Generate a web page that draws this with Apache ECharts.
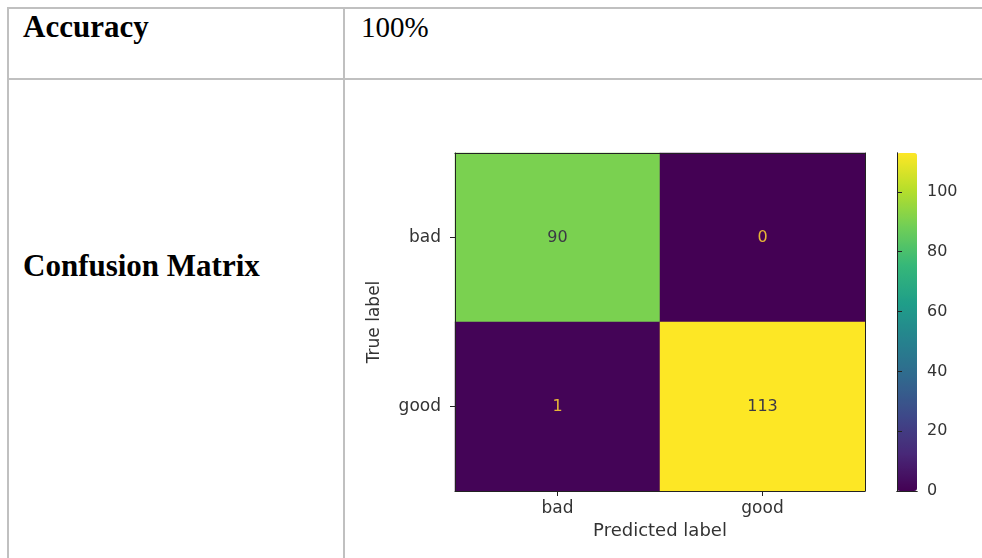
<!DOCTYPE html>
<html>
<head>
<meta charset="utf-8">
<script src="https://cdn.jsdelivr.net/npm/echarts@6/dist/echarts.min.js"></script>
<style>
  html, body { margin: 0; padding: 0; background: #ffffff; }
  #page { position: relative; width: 982px; height: 558px; overflow: hidden; background: #fff; }
  .ln { position: absolute; background: #c0c0c0; }
  .tx { position: absolute; font-family: "Liberation Serif", "Times New Roman", serif; color: #000; line-height: 1; white-space: nowrap; }
  #chart { position: absolute; left: 0; top: 0; width: 982px; height: 558px; }
</style>
</head>
<body>
<div id="page">
  <div class="ln" style="left:7px; top:7px; width:975px; height:2px;"></div>
  <div class="ln" style="left:7px; top:78px; width:975px; height:2px;"></div>
  <div class="ln" style="left:7px; top:7px; width:2px; height:551px;"></div>
  <div class="ln" style="left:343px; top:7px; width:2px; height:551px;"></div>
  <div class="tx" style="left:23px; top:11px; font-size:31px; font-weight:bold;">Accuracy</div>
  <div class="tx" style="left:361px; top:13px; font-size:29px;">100%</div>
  <div class="tx" style="left:23px; top:250px; font-size:31px; font-weight:bold;">Confusion Matrix</div>
  <div id="chart"></div>
</div>
<script>
// ---- data ----
var predictedLabels = ['bad', 'good'];
var trueLabels = ['bad', 'good'];
var rowBad = [90, 0];    // true = bad
var rowGood = [1, 113];  // true = good
var colorbarMax = 113;
var colorbarTicks = [0, 20, 40, 60, 80, 100];

var rows = [rowBad, rowGood];
var data = [];
for (var r = 0; r < rows.length; r++) {
  for (var c = 0; c < rows[r].length; c++) {
    var v = rows[r][c];
    data.push({
      value: [c, r, v],
      label: { color: v > colorbarMax / 2 ? '#3b3845' : '#e6b636' }
    });
  }
}

var viridis = ['#440154', '#482878', '#3e4989', '#31688e', '#26828e', '#1f9e89', '#35b779', '#6ece58', '#b5de2b', '#fde725'];
var spine = { show: true, lineStyle: { color: '#222', width: 1 } };
var font = 'DejaVu Sans';

var chart = echarts.init(document.getElementById('chart'), null, { renderer: 'canvas' });
chart.setOption({
  backgroundColor: 'transparent',
  animation: false,
  textStyle: { fontFamily: font },
  grid: [
    { left: 455, top: 153, width: 410, height: 338 },
    { left: 897, top: 153, width: 20, height: 338 }
  ],
  xAxis: [
    {
      type: 'category', gridIndex: 0, data: predictedLabels, position: 'bottom', z: 5,
      axisLine: spine,
      axisTick: { show: true, alignWithLabel: true, length: 5, lineStyle: { color: '#222' } },
      axisLabel: { fontSize: 17, color: '#333', margin: 9, fontFamily: font },
      splitLine: { show: false },
      name: 'Predicted label', nameLocation: 'middle', nameGap: 29,
      nameTextStyle: { fontSize: 18, color: '#333', fontFamily: font }
    },
    {
      type: 'category', gridIndex: 0, data: predictedLabels, position: 'top', z: 5,
      axisLine: spine, axisTick: { show: false }, axisLabel: { show: false }
    },
    {
      type: 'value', gridIndex: 1, min: 0, max: 1, position: 'bottom', z: 5,
      axisLine: spine, axisTick: { show: false }, axisLabel: { show: false }, splitLine: { show: false }
    },
    {
      type: 'value', gridIndex: 1, min: 0, max: 1, position: 'top', z: 5,
      axisLine: spine, axisTick: { show: false }, axisLabel: { show: false }, splitLine: { show: false }
    }
  ],
  yAxis: [
    {
      type: 'category', gridIndex: 0, data: trueLabels, inverse: true, position: 'left', z: 5,
      axisLine: spine,
      axisTick: { show: true, alignWithLabel: true, length: 5, lineStyle: { color: '#222' } },
      axisLabel: { fontSize: 17, color: '#333', margin: 14, fontFamily: font },
      name: 'True label', nameLocation: 'middle', nameGap: 72, nameRotate: 90,
      nameTextStyle: { fontSize: 17, color: '#333', fontFamily: font }
    },
    {
      type: 'category', gridIndex: 0, data: trueLabels, inverse: true, position: 'right', z: 5,
      axisLine: spine, axisTick: { show: false }, axisLabel: { show: false }
    },
    {
      type: 'value', gridIndex: 1, min: 0, max: colorbarMax, interval: 20, position: 'right', z: 5,
      axisLine: spine,
      axisTick: { show: true, length: 5, lineStyle: { color: '#222' } },
      axisLabel: { fontSize: 16, color: '#333', margin: 10, showMaxLabel: false, fontFamily: font,
        formatter: function (v) { return colorbarTicks.indexOf(v) >= 0 ? String(v) : ''; } },
      splitLine: { show: false }
    },
    {
      type: 'value', gridIndex: 1, min: 0, max: colorbarMax, position: 'left', z: 5,
      axisLine: spine, axisTick: { show: false }, axisLabel: { show: false }, splitLine: { show: false }
    }
  ],
  visualMap: {
    type: 'continuous', min: 0, max: colorbarMax, seriesIndex: 0,
    orient: 'vertical', left: 897, top: 153, itemWidth: 20, itemHeight: 338,
    padding: 0, calculable: false, text: null, showLabel: false, z: 1,
    inRange: { color: viridis }
  },
  series: [{
    type: 'heatmap', xAxisIndex: 0, yAxisIndex: 0, data: data,
    label: { show: true, fontSize: 16, fontFamily: font },
    emphasis: { disabled: true },
    itemStyle: { borderWidth: 0 }
  }]
});
</script>
</body>
</html>
